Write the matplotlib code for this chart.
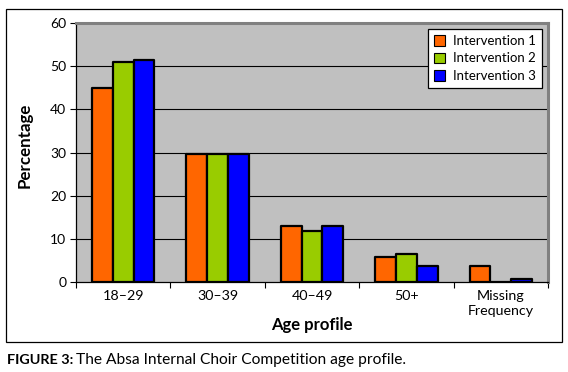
import numpy as np
import matplotlib
matplotlib.use("Agg")
import matplotlib.pyplot as plt
from matplotlib.patches import Rectangle

plt.rcParams["font.family"] = ["Lato", "DejaVu Sans"]

categories = ["18\u201329", "30\u201339", "40\u201349", "50+", "Missing\nFrequency"]
series_names = ["Intervention 1", "Intervention 2", "Intervention 3"]
intervention_1 = [45.0, 29.7, 13.0, 5.9, 3.6]
intervention_2 = [51.0, 29.7, 11.7, 6.5, 0.0]
intervention_3 = [51.5, 29.7, 13.0, 3.6, 0.6]
colors = ["#FF6600", "#99CC00", "#0000FF"]

fig = plt.figure(figsize=(5.68, 3.72), dpi=100)

# outer frame around the chart
fig.patches.append(Rectangle((6 / 568, 1 - 342 / 372), 556 / 568, 333 / 372,
                             transform=fig.transFigure, fill=False,
                             edgecolor="black", linewidth=0.9))

ax = fig.add_axes([76 / 568, 1 - 282 / 372, 472 / 568, 259 / 372])
ax.set_facecolor("#C0C0C0")

x = np.arange(len(categories))
width = 0.22
for i, (vals, name) in enumerate(zip([intervention_1, intervention_2, intervention_3], series_names)):
    ax.bar(x + (i - 1) * width, vals, width, color=colors[i], edgecolor="black",
           linewidth=1.6, label=name, zorder=3, joinstyle="round")

ax.set_xlim(-0.5, 4.5)
ax.set_ylim(0, 60)
ax.set_yticks(range(0, 61, 10))
ax.set_xticks(x)
ax.set_xticklabels(categories, fontsize=10.3, linespacing=1.3)
ax.set_xticks(np.arange(-0.5, 5, 1), minor=True)
ax.tick_params(axis="x", which="major", length=0, pad=6)
ax.tick_params(axis="x", which="minor", length=4, width=0.8, direction="out")
ax.tick_params(axis="y", length=4, width=0.8, labelsize=10, pad=3)

for yv in range(10, 60, 10):
    ax.axhline(yv, color="black", linewidth=0.8, zorder=1)

for side in ["top", "right"]:
    ax.spines[side].set_color("#808080")
    ax.spines[side].set_linewidth(2.2)
for side in ["left", "bottom"]:
    ax.spines[side].set_color("black")
    ax.spines[side].set_linewidth(0.9)

ax.set_xlabel("Age profile", fontsize=12, fontweight="bold")
ax.xaxis.set_label_coords((312 - 76) / 472, -(325 - 282) / 259)
ax.xaxis.label.set_va("center")
ax.set_ylabel("Percentage", fontsize=12.2, fontweight="bold")
ax.yaxis.set_label_coords(-(76 - 25) / 472, (282 - 145) / 259)
ax.yaxis.label.set_va("center")

leg = ax.legend(loc="upper right", bbox_to_anchor=((542 - 76) / 472, (282 - 29) / 259),
                fontsize=9.5, frameon=True, fancybox=False, edgecolor="black",
                framealpha=1, handlelength=0.85, handleheight=0.85, handletextpad=0.6,
                labelspacing=0.42, borderpad=0.45, borderaxespad=0)
for h in leg.legend_handles:
    h.set_linewidth(0.8)
leg.get_frame().set_linewidth(0.9)

# caption
t1 = fig.text(7 / 568, 1 - 360 / 372, "FIGURE 3:", fontsize=10.4, fontweight="bold",
              va="center", ha="left")
fig.canvas.draw()
bb = t1.get_window_extent().transformed(fig.transFigure.inverted())
fig.text(bb.x1 + 3 / 568, 1 - 360 / 372, "The Absa Internal Choir Competition age profile.",
         fontsize=11.2, va="center", ha="left")

fig.savefig("out.png", dpi=100)
